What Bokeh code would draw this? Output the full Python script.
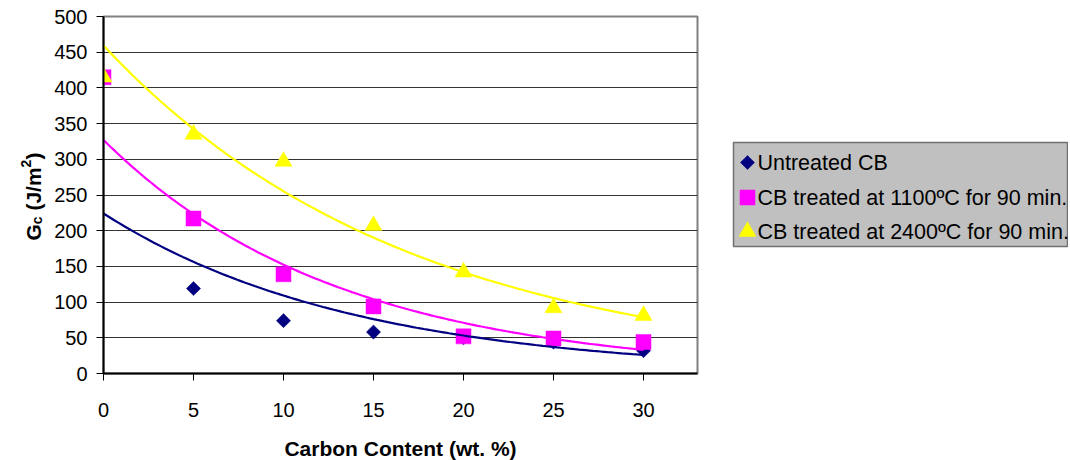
import numpy as np
from math import pi
from bokeh.plotting import figure
from bokeh.models import Range1d, FixedTicker
from bokeh.layouts import row
from bokeh.embed import file_html
from bokeh.resources import INLINE
from bokeh.core.properties import value

# ---------------- data ----------------
carbon = [0, 5, 10, 15, 20, 25, 30]
untreated = [415, 119, 74, 58, 50, 44, 32]
cb_1100 = [415, 217, 139, 94, 52, 49, 44]
cb_2400 = [415, 335, 297, 207, 142, 92, 81]
series_names = ["Untreated CB",
                "CB treated at 1100ºC for 90 min.",
                "CB treated at 2400ºC for 90 min."]
x_ticks = [0, 5, 10, 15, 20, 25, 30]
y_ticks = [0, 50, 100, 150, 200, 250, 300, 350, 400, 450, 500]
x_title = "Carbon Content (wt. %)"

# ---------------- style ----------------
FONT = "Liberation Sans"
colors = ["#000080", "#FF00FF", "#FFFF00"]
marker_styles = [("square", 10, pi / 4), ("square", 15, 0.0), ("triangle", 17, 0.0)]
series = [untreated, cb_1100, cb_2400]

FH = 357  # frame height shared by the three panels (frames are aligned)

# ---------------- y-axis title panel ----------------
yt = figure(frame_width=48, frame_height=FH,
            x_range=Range1d(0, 48), y_range=Range1d(0, FH),
            output_backend="svg", toolbar_location=None,
            x_axis_type=None, y_axis_type=None, min_border=0)
yt.grid.visible = False
yt.outline_line_color = None
yt.background_fill_color = "white"
yt.border_fill_color = "white"
base_x = 33
pieces = [("G", "21px", 0, 0.0),
          ("c", "14px", 3, 16.3),
          ("(J/m", "21px", 0, 29.9),
          ("2", "14px", -8, 73.1),
          (")", "21px", 0, 80.9)]
start_y = 133
for txt, fs, dx, dy in pieces:
    yt.text([base_x + dx], [start_y + dy], text=[txt], angle=pi / 2,
            text_font=value(FONT), text_font_size=fs, text_font_style="bold",
            text_align="left", text_baseline="alphabetic", text_color="black")

# ---------------- main plot ----------------
p = figure(frame_width=594, frame_height=FH,
           x_range=Range1d(0, 33), y_range=Range1d(0, 500),
           output_backend="svg", toolbar_location=None,
           min_border_left=55, min_border_right=11,
           min_border_top=16, min_border_bottom=85)
p.background_fill_color = "white"
p.border_fill_color = "white"
p.outline_line_color = "#808080"
p.outline_line_width = 2
p.xgrid.visible = False
p.ygrid.grid_line_color = "#333333"
p.ygrid.grid_line_width = 1
p.ygrid.ticker = FixedTicker(ticks=y_ticks)

p.xaxis.ticker = FixedTicker(ticks=x_ticks)
p.yaxis.ticker = FixedTicker(ticks=y_ticks)
for ax in (p.xaxis, p.yaxis):
    ax.axis_line_color = "black"
    ax.axis_line_width = 2
    ax.major_tick_line_color = "black"
    ax.major_tick_line_width = 1
    ax.major_tick_in = 0
    ax.major_tick_out = 7
    ax.minor_tick_line_color = None
    ax.major_label_text_font = FONT
    ax.major_label_text_font_size = "20px"
    ax.major_label_text_color = "black"
p.xaxis.major_label_standoff = 22
p.yaxis.major_label_standoff = 9
p.xaxis.axis_label = x_title
p.xaxis.axis_label_text_font = FONT
p.xaxis.axis_label_text_font_size = "21px"
p.xaxis.axis_label_text_font_style = "bold"
p.xaxis.axis_label_text_color = "black"
p.xaxis.axis_label_standoff = 17

# markers
for ys, col, (mk, sz, ang) in zip(series, colors, marker_styles):
    p.scatter(carbon, ys, marker=mk, size=sz, angle=ang,
              fill_color=col, line_color=col, line_width=0.5)

# exponential trend lines (least-squares fit of the data, as Excel does)
xf = np.linspace(0, 30, 151)
for ys, col in zip(series, colors):
    b, a = np.polyfit(np.array(carbon, float), np.log(np.array(ys, float)), 1)
    p.line(xf, np.exp(a + b * xf), line_color=col, line_width=2.2)

# ---------------- legend panel ----------------
lg = figure(frame_width=360, frame_height=FH,
            x_range=Range1d(0, 360), y_range=Range1d(0, FH),
            output_backend="svg", toolbar_location=None,
            x_axis_type=None, y_axis_type=None, min_border=0)
lg.grid.visible = False
lg.outline_line_color = None
lg.background_fill_color = "white"
lg.border_fill_color = "white"
box_left, box_right, box_bottom, box_top = 25, 359, 127, 231
lg.quad(left=[box_left], right=[box_right], bottom=[box_bottom], top=[box_top],
        fill_color="#C0C0C0", line_color="#707070", line_width=1.5)
row_y = [211, 176, 142]
glyph_x = 39
text_x = 49
for yy, col, (mk, sz, ang), name in zip(row_y, colors, marker_styles, series_names):
    lg.scatter([glyph_x], [yy], marker=mk, size=sz, angle=ang,
               fill_color=col, line_color=col, line_width=0.5)
    lg.text([text_x], [yy], text=[name], text_font=value(FONT),
            text_font_size="21.5px", text_baseline="middle", text_align="left",
            text_color="black")

layout = row(yt, p, lg)
open("out.html", "w").write(file_html(layout, INLINE))
